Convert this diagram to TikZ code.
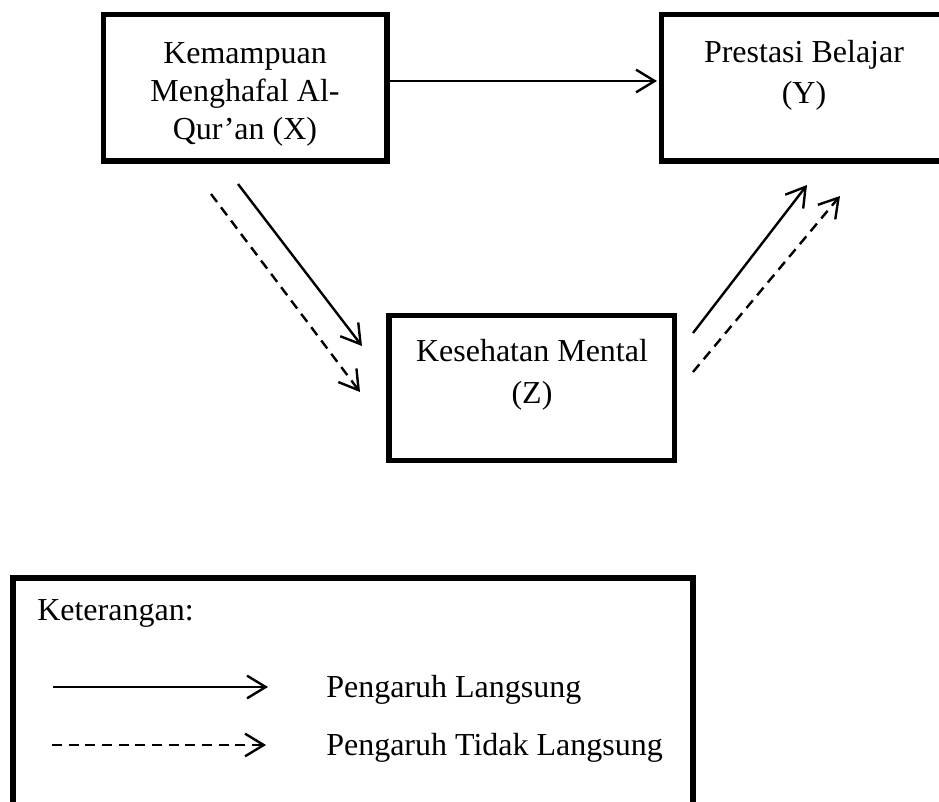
\documentclass[tikz,border=0pt]{standalone}
\usepackage{fontspec}
\setmainfont{Liberation Serif}
\usetikzlibrary{arrows.meta,fit}
\begin{document}
\begin{tikzpicture}[x=0.75pt,y=-0.75pt,
  box/.style={draw, line width=4.4pt, inner sep=0pt},
  lbl/.style={inner sep=0pt, anchor=base, font=\fontsize{24}{28}\selectfont},
  llbl/.style={inner sep=0pt, anchor=base west, font=\fontsize{24}{28}\selectfont},
  conn/.style={line width=1.8pt, -{Straight Barb[length=14pt,width=17pt]}},
  indirect/.style={conn, dash pattern=on 7.5pt off 5pt}]
\useasboundingbox (0,0) rectangle (939,802);
\begin{scope}
\clip (0,0) rectangle (939,802);
% boxes
\node[box, fit={(103.5,14.5) (387,161)}] (X) {};
\node[box, fit={(661.5,14.5) (945,161)}] (Y) {};
\node[box, fit={(389,315.5) (674.5,460.5)}] (Z) {};
\node[box, fit={(13,578) (693,815)}] (L) {};
\end{scope}
% texts
\node[lbl] (x1) at (245,64) {Kemampuan};
\node[lbl] (x2) at (245,102) {Menghafal Al-};
\node[lbl] (x3) at (245,140) {Qur’an (X)};
\node[lbl] (y1) at (804,63) {Prestasi Belajar};
\node[lbl] (y2) at (804,104) {(Y)};
\node[lbl] (z1) at (532,361) {Kesehatan Mental};
\node[lbl] (z2) at (532,403) {(Z)};
\node[llbl] (k) at (37,620) {Keterangan:};
\node[llbl] (l1) at (326,697) {Pengaruh Langsung};
\node[llbl] (l2) at (326,755) {Pengaruh Tidak Langsung};
% connector end points
\coordinate (xy1) at (389,81);
\coordinate (xy2) at (657,81);
\coordinate (xz1) at (238,184);
\coordinate (xz2) at (362,346);
\coordinate (xzd1) at (211,194);
\coordinate (xzd2) at (360,392);
\coordinate (zy1) at (693,333);
\coordinate (zy2) at (807,185);
\coordinate (zyd1) at (693,372);
\coordinate (zyd2) at (840,196);
\coordinate (ls1) at (53,687);
\coordinate (ls2) at (268,687);
\coordinate (ld1) at (52,745);
\coordinate (ld2) at (266,745);
% connectors
\draw[conn] (xy1) -- (xy2);
\draw[conn] (xz1) -- (xz2);
\draw[indirect] (xzd1) -- (xzd2);
\draw[conn] (zy1) -- (zy2);
\draw[indirect] (zyd1) -- (zyd2);
\draw[conn] (ls1) -- (ls2);
\draw[indirect] (ld1) -- (ld2);
\end{tikzpicture}
\end{document}
